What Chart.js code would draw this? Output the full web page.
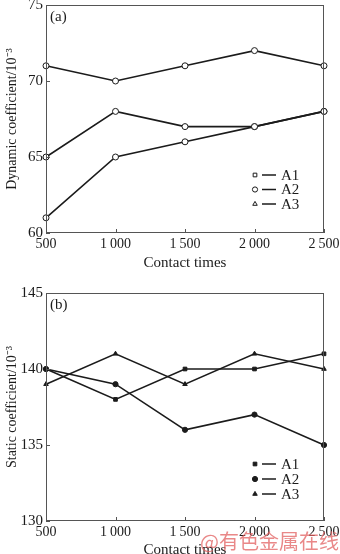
<!DOCTYPE html>
<html>
<head>
<meta charset="utf-8">
<script src="https://cdn.jsdelivr.net/npm/chart.js@4/dist/chart.umd.min.js"></script>
<style>
  html, body { margin: 0; padding: 0; background: #fff; }
  body { width: 340px; height: 554px; position: relative; overflow: hidden; }
  .panel { position: absolute; left: 0; width: 340px; }
  #wrapA { top: 0; height: 270px; }
  #wrapB { top: 270px; height: 284px; }
  #mark {
    position: absolute; left: 200px; top: 526px;
    font: 20px "Noto Sans CJK SC", sans-serif;
    color: rgba(226, 96, 96, 0.75); white-space: nowrap;
  }
</style>
</head>
<body>
<div class="panel" id="wrapA"><canvas id="chartA"></canvas></div>
<div class="panel" id="wrapB"><canvas id="chartB"></canvas></div>
<div id="mark">@有色金属在线</div>
<script>
// contact times on the x axis
const contactTimes = [500, 1000, 1500, 2000, 2500];
const seriesNames = ['A1', 'A2', 'A3'];

// (a) dynamic friction coefficient, x10^-3
const dynamicA1 = [71, 70, 71, 72, 71];
const dynamicA2 = [61, 65, 66, 67, 68];
const dynamicA3 = [65, 68, 67, 67, 68];

// (b) static friction coefficient, x10^-3
const staticA1 = [140, 138, 140, 140, 141];
const staticA2 = [140, 139, 136, 137, 135];
const staticA3 = [139, 141, 139, 141, 140];

const dynamicTicks = [60, 65, 70, 75];
const staticTicks = [130, 135, 140, 145];

const SERIF = '"Liberation Serif", "Times New Roman", serif';
const INK = '#1b1b1b';
const markerStyles = ['rect', 'circle', 'triangle'];

function fmtTime(v) {
  return v >= 1000 ? String(v).replace(/(\d)(\d{3})$/, '$1\u2009$2') : String(v);
}

// frame, inward ticks, panel tag and an in-plot legend
const decor = {
  id: 'decor',
  afterDraw(chart, args, opts) {
    const { ctx, chartArea: a } = chart;
    const xs = chart.scales.x, ys = chart.scales.y;
    ctx.save();
    ctx.strokeStyle = '#555';
    ctx.lineWidth = 1;
    ctx.strokeRect(a.left + 0.5, a.top + 0.5, a.right - a.left - 1, a.bottom - a.top - 1);
    ctx.beginPath();
    xs.ticks.forEach((t, i) => {
      const x = Math.round(xs.getPixelForTick(i)) + 0.5;
      ctx.moveTo(x, a.bottom); ctx.lineTo(x, a.bottom - 4);
    });
    ys.ticks.forEach((t, i) => {
      const y = Math.round(ys.getPixelForTick(i)) + 0.5;
      ctx.moveTo(a.left, y); ctx.lineTo(a.left + 4, y);
    });
    ctx.stroke();

    ctx.fillStyle = INK;
    ctx.font = '15px ' + SERIF;
    ctx.textBaseline = 'middle';
    ctx.textAlign = 'left';
    ctx.fillText(opts.tag, a.left + 4, a.top + 12);

    chart.data.datasets.forEach((ds, i) => {
      const y = a.bottom - opts.legendBottom - (chart.data.datasets.length - 1 - i) * opts.legendGap;
      const mx = opts.legendX;
      ctx.strokeStyle = INK;
      ctx.fillStyle = opts.legendFill;
      ctx.lineWidth = 1;
      Chart.helpers.drawPoint(ctx, { pointStyle: markerStyles[i], radius: 2.6, rotation: 0, borderWidth: 1 }, mx, y);
      ctx.lineWidth = 1.5;
      ctx.beginPath();
      ctx.moveTo(mx + 7, y); ctx.lineTo(mx + 21, y);
      ctx.stroke();
      ctx.fillStyle = INK;
      ctx.font = '15px ' + SERIF;
      ctx.fillText(ds.label, mx + 26, y + 1);
    });
    ctx.restore();
  }
};

function makeDatasets(values, filled, styles) {
  return values.map((v, i) => ({
    label: seriesNames[i],
    data: v,
    borderColor: INK,
    borderWidth: 1.6,
    pointStyle: styles[i],
    pointRadius: filled ? 2.6 : 3,
    pointBorderWidth: 1,
    pointBorderColor: INK,
    pointBackgroundColor: filled ? INK : '#fff',
    tension: 0
  }));
}

function makeChart(id, cfg) {
  return new Chart(document.getElementById(id), {
    type: 'line',
    data: { labels: contactTimes, datasets: cfg.datasets },
    plugins: [decor],
    options: {
      responsive: true,
      maintainAspectRatio: false,
      animation: false,
      events: [],
      layout: { padding: { top: cfg.top, right: 16, left: 0, bottom: 0 } },
      plugins: {
        legend: { display: false },
        tooltip: { enabled: false },
        decor: cfg.decor
      },
      scales: {
        x: {
          type: 'category',
          offset: false,
          grid: { display: false, drawTicks: false },
          border: { display: false },
          ticks: {
            color: INK, font: { family: SERIF, size: 14 }, padding: 3,
            maxRotation: 0, autoSkip: false,
            callback: (v, i) => fmtTime(contactTimes[i])
          },
          title: { display: true, text: 'Contact times', color: INK, font: { family: SERIF, size: 15 }, padding: { top: 0, bottom: cfg.titlePad } },
          afterFit: s => { s.height = cfg.xHeight; s.paddingLeft = 0; s.paddingRight = 0; }
        },
        y: {
          min: cfg.ticks[0],
          max: cfg.ticks[cfg.ticks.length - 1],
          grid: { display: false, drawTicks: false },
          border: { display: false },
          afterBuildTicks: s => { s.ticks = cfg.ticks.map(v => ({ value: v })); },
          ticks: { color: INK, font: { family: SERIF, size: 15 }, padding: 3 },
          title: { display: true, text: cfg.yTitle, color: INK, font: { family: SERIF, size: 14 }, padding: { top: 4, bottom: 0 } },
          afterFit: s => { s.width = 46; s.paddingTop = 0; s.paddingBottom = 0; }
        }
      }
    }
  });
}

makeChart('chartA', {
  datasets: makeDatasets([dynamicA1, dynamicA2, dynamicA3], false, ['circle', 'circle', 'circle']),
  ticks: dynamicTicks,
  yTitle: 'Dynamic coefficient/10\u207B\u00B3',
  top: 5,
  xHeight: 37,
  titlePad: -2,
  decor: { tag: '(a)', legendX: 255, legendBottom: 29, legendGap: 14.5, legendFill: '#fff' }
});

makeChart('chartB', {
  datasets: makeDatasets([staticA1, staticA2, staticA3], true, markerStyles),
  ticks: staticTicks,
  yTitle: 'Static coefficient/10\u207B\u00B3',
  top: 23,
  xHeight: 33,
  titlePad: -5,
  decor: { tag: '(b)', legendX: 255, legendBottom: 27, legendGap: 15, legendFill: INK }
});
</script>
</body>
</html>
